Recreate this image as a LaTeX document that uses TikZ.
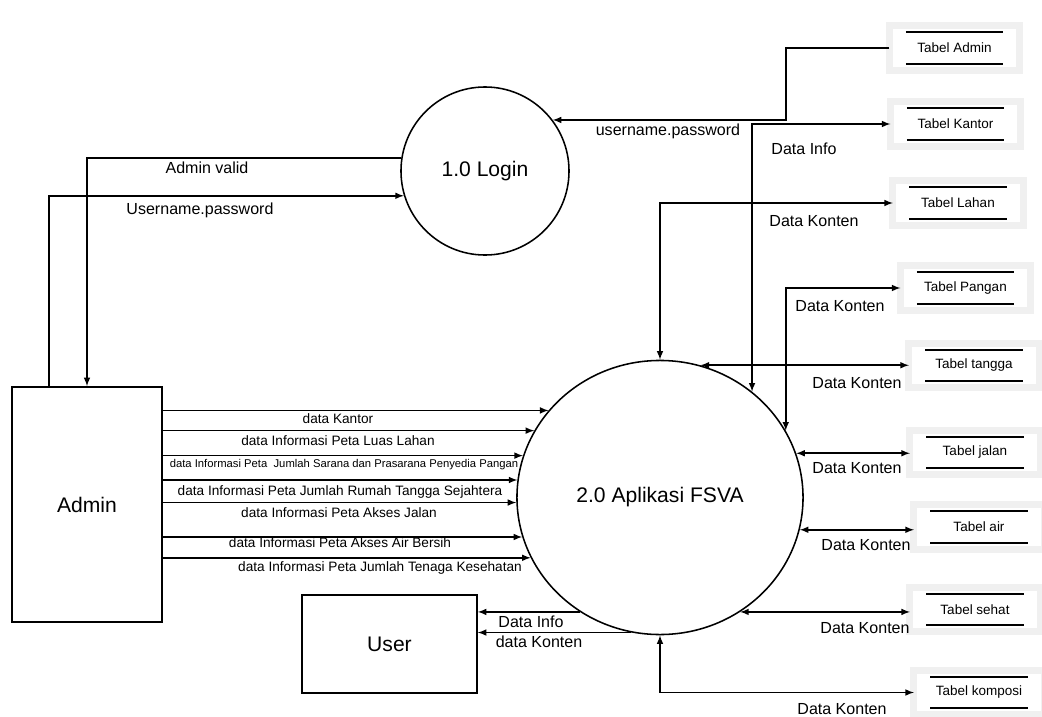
\documentclass[tikz,border=0pt]{standalone}
\usepackage{fontspec}
\setmainfont{Liberation Sans}
\usepackage{tikz}
\usetikzlibrary{shapes.geometric}

\begin{document}
\begin{tikzpicture}[x=0.025cm,y=-0.025cm,>=latex,line width=1.1pt,
        ent/.style={draw,rectangle,inner sep=0pt,font=\fontsize{15}{18}\selectfont},
        proc/.style={draw,circle,inner sep=0pt,font=\fontsize{15}{18}\selectfont},
        tabel/.style={rectangle,fill=white,draw=black!6,line width=0.175cm,outer sep=0pt,
            minimum width=3.25cm,minimum height=1.1cm,inner sep=0pt,font=\fontsize{9.6}{11}\selectfont,
            path picture={\draw[black,line width=1.4pt]
                ([xshift=0.41cm,yshift=-0.16cm]path picture bounding box.north west) --
                ([xshift=-0.41cm,yshift=-0.16cm]path picture bounding box.north east)
                ([xshift=0.41cm,yshift=0.16cm]path picture bounding box.south west) --
                ([xshift=-0.41cm,yshift=0.16cm]path picture bounding box.south east);}},
        lbl/.style={inner sep=0pt,font=\fontsize{11.4}{13}\selectfont},
        flowlbl/.style={inner sep=0pt,font=\fontsize{9.7}{11}\selectfont},
        smalllbl/.style={inner sep=0pt,font=\fontsize{8}{9}\selectfont}]
    \useasboundingbox (0,0) rectangle (1042,717);

    % entities and processes
    \node[ent,minimum width=3.75cm,minimum height=5.875cm] (admin) at (87,504.5) {Admin};
    \node[ent,minimum width=4.375cm,minimum height=2.45cm] (user) at (389.5,644) {User};
    \node[proc,minimum size=4.2cm] (login) at (485,171) {1.0 Login};
    \node[proc,ellipse,minimum width=7.15cm,minimum height=6.85cm] (fsva) at (660,497.5) {2.0 Aplikasi FSVA};

    % data stores
    \node[tabel] (tadmin) at (954.5,48) {Tabel Admin};
    \node[tabel] (tkantor) at (955.5,124) {Tabel Kantor};
    \node[tabel] (tlahan) at (958,203) {Tabel Lahan};
    \node[tabel] (tpangan) at (965.5,288) {Tabel Pangan};
    \node[tabel] (ttangga) at (974,365.5) {Tabel tangga};
    \node[tabel] (tjalan) at (975,452.5) {Tabel jalan};
    \node[tabel] (tair) at (979,527) {Tabel air};
    \node[tabel] (tsehat) at (975,609.5) {Tabel sehat};
    \node[tabel] (tkomposi) at (979,692.5) {Tabel komposi};

    % login flows
    \draw[->] ([xshift=-0.95cm]admin.north) |- (login.197.3);
    \draw[->] (login.171.1) -| (admin.north);
    \coordinate (kadmin) at (786,0);
    \draw[->] (tadmin.west) -| (login.37.4 -| kadmin) -- (login.37.4);
    \node[lbl] (ladminvalid) at (207,168) {Admin valid};
    \node[lbl] (luserpass) at (200,210) {Username.password};
    \node[lbl] (ltadmin) at (668,131) {username.password};

    % admin to fsva
    \draw[->] (admin.east |- fsva.142.05) -- (fsva.142.05);
    \draw[->] (admin.east |- fsva.152.9) -- (fsva.152.9);
    \draw[->] (admin.east |- fsva.163.5) -- (fsva.163.5);
    \draw[->] (admin.east |- fsva.173.8) -- (fsva.173.8);
    \draw[->] (admin.east |- fsva.182.2) -- (fsva.182.2);
    \draw[->] (admin.east |- fsva.196.1) -- (fsva.196.1);
    \draw[->] (admin.east |- fsva.205.7) -- (fsva.205.7);
    \node[flowlbl] (f1) at (338,419) {data Kantor};
    \node[flowlbl] (f2) at (338,441) {data Informasi Peta Luas Lahan};
    \node[smalllbl] (f3) at (344,465) {data Informasi Peta\ \ Jumlah Sarana dan Prasarana Penyedia Pangan};
    \node[flowlbl] (f4) at (340,492) {data Informasi Peta Jumlah Rumah Tangga Sejahtera};
    \node[flowlbl] (f5) at (339,513) {data Informasi Peta Akses Jalan};
    \node[flowlbl] (f6) at (340,543) {data Informasi Peta Akses Air Bersih};
    \node[flowlbl] (f7) at (380,568) {data Informasi Peta Jumlah Tenaga Kesehatan};

    % fsva to user
    \draw[->] (fsva.235.6) -- (fsva.235.6 -| user.east);
    \draw[->] (fsva.258.6) -- (fsva.258.6 -| user.east);
    \node[lbl] (luinfo) at (531,622) {Data Info};
    \node[lbl] (lukonten) at (539,642) {data Konten};

    % fsva and data stores
    \draw[<->] (tkantor.west) -| (fsva.49.3);
    \draw[<->] (tlahan.west) -| (fsva.north);
    \draw[<->] (tpangan.west) -| (fsva.28.05);
    \draw[<->] (fsva.73.04 -| ttangga.west) -- (fsva.73.04);
    \draw[<->] (fsva.18.64 -| tjalan.west) -- (fsva.18.64);
    \draw[<->] (fsva.347.7 -| tair.west) -- (fsva.347.7);
    \draw[<->] (fsva.305.96 -| tsehat.west) -- (fsva.305.96);
    \draw[<->] (tkomposi.west) -| (fsva.south);
    \node[lbl] (lkantor) at (804,149) {Data Info};
    \node[lbl] (llahan) at (814,221) {Data Konten};
    \node[lbl] (lpangan) at (840,306) {Data Konten};
    \node[lbl] (ltangga) at (857,383) {Data Konten};
    \node[lbl] (ljalan) at (857,468) {Data Konten};
    \node[lbl] (lair) at (866,545) {Data Konten};
    \node[lbl] (lsehat) at (865,628) {Data Konten};
    \node[lbl] (lkomposi) at (842,709) {Data Konten};
\end{tikzpicture}
\end{document}
